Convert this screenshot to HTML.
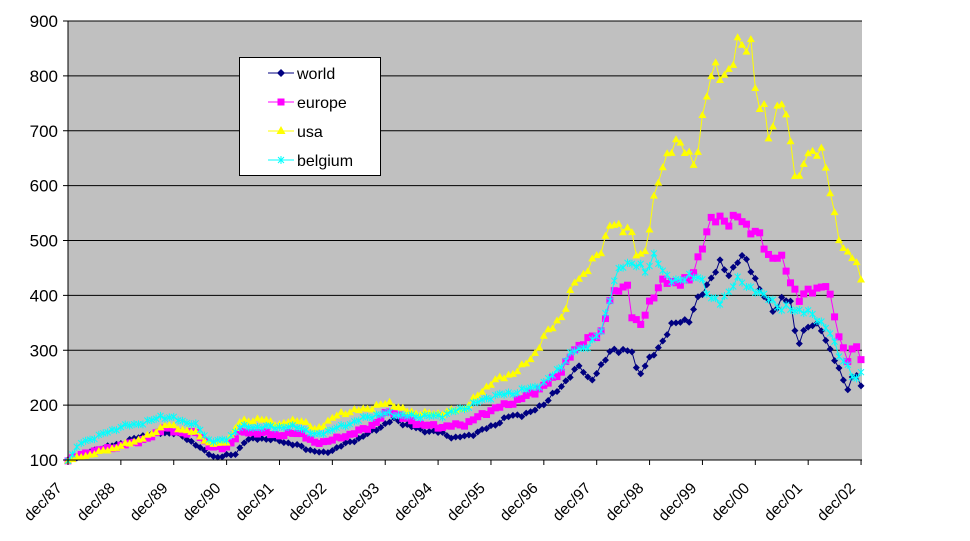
<!DOCTYPE html>
<html><head><meta charset="utf-8"><style>
html,body{margin:0;padding:0;background:#fff;}
svg{display:block;font-family:"Liberation Sans",Arial,sans-serif;}
</style></head><body>
<svg id="c" width="970" height="541" xmlns="http://www.w3.org/2000/svg">
<rect x="68" y="21" width="794" height="439" fill="#c0c0c0"/>
<g id="grid"></g>
<g id="series"></g>
<g id="axes"></g>
<g id="legend">
<rect x="239.5" y="57.5" width="141" height="118" fill="#fff" stroke="#000"/>
<line x1="268" y1="73" x2="294" y2="73" stroke="#000080"/><path d="M281 69L285 73L281 77L277 73Z" fill="#000080"/>
<text x="297" y="79" font-size="16">world</text>
<line x1="268" y1="102" x2="294" y2="102" stroke="#ff00ff"/><rect x="277.5" y="98.5" width="7" height="7" fill="#ff00ff"/>
<text x="297" y="108" font-size="16">europe</text>
<line x1="268" y1="131" x2="294" y2="131" stroke="#ffff00"/><path d="M281 126L285.5 134L276.5 134Z" fill="#ffff00"/>
<text x="297" y="137" font-size="16">usa</text>
<line x1="268" y1="160" x2="294" y2="160" stroke="#00ffff"/><path d="M278 157L284 163M284 157L278 163M281 156V164" stroke="#00ffff"/>
<text x="297" y="166" font-size="16">belgium</text>
</g>
</svg>
<script>
var NS="http://www.w3.org/2000/svg";
function Y(v){return 460-(v-100)*439/800;}
function el(p,t,a,txt){var e=document.createElementNS(NS,t);for(var k in a)e.setAttribute(k,a[k]);if(txt!==undefined)e.textContent=txt;document.getElementById(p).appendChild(e);return e;}
for(var v=100;v<=900;v+=100){var y=Y(v);if(v>100)el("grid","line",{x1:68,x2:862,y1:y,y2:y,stroke:"#000","stroke-width":1});
el("axes","text",{x:58,y:y+6,"font-size":"17","text-anchor":"end"},String(v));
el("axes","line",{x1:63,x2:68,y1:y,y2:y,stroke:"#000"});}
el("axes","line",{x1:68,x2:68,y1:21,y2:460,stroke:"#000"});
el("axes","line",{x1:68,x2:862,y1:460,y2:460,stroke:"#000"});
var labs=["87","88","89","90","91","92","93","94","95","96","97","98","99","00","01","02"];
for(var i=0;i<16;i++){var x=68+i*52.87;el("axes","line",{x1:x,x2:x,y1:460,y2:465,stroke:"#000"});
var lx=x-5,ly=489;
el("axes","text",{x:lx,y:ly,"font-size":"15.5","text-anchor":"end",transform:"rotate(-45 "+lx+" "+ly+")"},"dec/"+labs[i]);}
function mk(pts){var out=[];for(var m=0;m<=180;m++){var x=68+m*793/180;var j=0;while(j<pts.length-2&&pts[j+1][0]<x)j++;
var a=pts[j],b=pts[j+1];var t=(x-a[0])/(b[0]-a[0]);t=Math.max(0,Math.min(1,t));var v=a[1]+(b[1]-a[1])*t;
v+=(Math.sin(m*2.3+pts.length)*0.6+Math.sin(m*5.1+pts.length*3)*0.5)*v*0.02;out.push([x,Y(v)]);}return out;}
var S={
world:[[68,100],[90,115],[120,130],[150,148],[175,150],[195,130],[205,115],[215,105],[235,110],[245,135],[260,140],[280,135],[300,125],[310,118],[325,112],[340,125],[360,140],[375,155],[385,165],[395,175],[405,165],[420,155],[440,150],[455,140],[470,145],[490,160],[510,180],[530,185],[545,205],[560,230],[570,255],[580,270],[590,245],[600,265],[612,305],[625,295],[632,300],[638,255],[645,270],[660,310],[670,340],[680,355],[690,355],[700,400],[710,430],[720,455],[730,440],[740,470],[750,455],[760,410],[770,380],[775,370],[780,395],[790,390],[797,310],[805,340],[815,345],[822,340],[830,300],[840,260],[847,230],[855,260],[862,230]],
europe:[[68,100],[90,115],[120,125],[150,140],[165,160],[175,150],[195,150],[210,125],[225,120],[240,150],[260,150],[280,145],[300,150],[315,130],[340,140],[370,160],[390,190],[405,175],[420,165],[440,160],[465,165],[490,190],[520,210],[545,235],[560,260],[575,300],[585,320],[600,325],[610,395],[620,410],[628,420],[632,365],[640,340],[650,390],[660,420],[670,425],[690,425],[700,480],[710,530],[720,545],[730,530],[740,545],[750,520],[760,505],[770,470],[780,470],[790,430],[800,390],[810,410],[820,415],[825,420],[832,385],[840,320],[848,280],[855,310],[862,285]],
usa:[[68,100],[90,110],[120,125],[150,145],[165,165],[175,160],[195,150],[210,130],[225,130],[240,170],[260,175],[280,165],[300,175],[315,155],[340,185],[370,195],[390,205],[405,190],[420,185],[440,185],[465,195],[490,240],[520,265],[535,295],[550,340],[565,370],[575,430],[585,440],[600,480],[610,530],[620,520],[630,530],[638,460],[645,480],[655,590],[665,640],[675,690],[685,660],[695,640],[705,750],[715,820],[725,800],[732,810],[740,880],[745,850],[750,870],[758,730],[765,750],[770,680],[780,760],[790,700],[797,590],[805,650],[815,670],[822,660],[830,590],[840,500],[848,470],[855,470],[862,425]],
belgium:[[68,100],[80,130],[100,145],[120,160],[150,170],[160,180],[175,175],[195,165],[210,135],[225,135],[240,160],[260,160],[280,160],[300,160],[315,145],[340,160],[370,180],[390,185],[405,180],[420,180],[440,180],[465,195],[490,215],[520,225],[545,240],[560,270],[575,300],[590,310],[600,330],[615,430],[625,460],[635,460],[645,440],[655,480],[665,430],[680,430],[690,430],[700,440],[710,390],[720,390],[730,410],[740,430],[750,415],[760,400],[770,400],[780,370],[790,380],[800,370],[815,365],[830,330],[840,290],[848,270],[855,240],[862,265]]};
var col={world:"#000080",europe:"#ff00ff",usa:"#ffff00",belgium:"#00ffff"};
["world","europe","usa","belgium"].forEach(function(k){var p=mk(S[k]);var c=col[k];
el("series","polyline",{points:p.map(function(q){return q[0].toFixed(1)+","+q[1].toFixed(1)}).join(" "),fill:"none",stroke:c,"stroke-width":1});
p.forEach(function(q){var x=q[0],y=q[1];
if(k=="world")el("series","path",{d:"M"+x+" "+(y-3.5)+"L"+(x+3.5)+" "+y+"L"+x+" "+(y+3.5)+"L"+(x-3.5)+" "+y+"Z",fill:c});
else if(k=="europe")el("series","rect",{x:x-3.5,y:y-3.5,width:7,height:7,fill:c});
else if(k=="usa")el("series","path",{d:"M"+x+" "+(y-4)+"L"+(x+4)+" "+(y+3)+"L"+(x-4)+" "+(y+3)+"Z",fill:c});
else el("series","path",{d:"M"+(x-3)+" "+(y-3)+"L"+(x+3)+" "+(y+3)+"M"+(x+3)+" "+(y-3)+"L"+(x-3)+" "+(y+3)+"M"+x+" "+(y-4)+"V"+(y+4),stroke:c,"stroke-width":1});
});});
</script>
</body></html>
